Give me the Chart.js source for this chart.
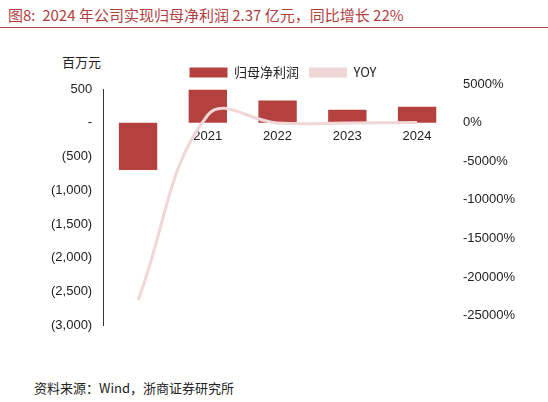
<!DOCTYPE html>
<html><head><meta charset="utf-8">
<script src="https://cdn.jsdelivr.net/npm/chart.js@4/dist/chart.umd.min.js"></script>
<style>
body{margin:0;background:#fff;font-family:"Noto Sans CJK SC";}
#t{position:absolute;left:8px;top:4px;font-size:15px;color:#b0403e;}
#s{position:absolute;left:34px;top:378px;font-size:13px;color:#222;}
#u{position:absolute;left:62px;top:52px;font-size:13px;color:#222;}
#line{position:absolute;left:0;top:27px;width:548px;border-top:1px solid #b0403e;}
#wrap{position:absolute;left:0;top:56px;width:548px;height:280px;}
</style></head><body>
<div id="t">图8:&nbsp;&nbsp;2024 年公司实现归母净利润 2.37 亿元，同比增长 22%</div>
<div id="line"></div>
<div id="u">百万元</div>
<div id="wrap"><canvas id="c"></canvas></div>
<div id="s">资料来源：Wind，浙商证券研究所</div>
<script>
var years = ["2020", "2021", "2022", "2023", "2024"];
var profit = [-700, 490, 330, 194, 237];
var yoy = [-23000, 1000, -30, -40, 22];

function fmtLeft(v){
    if (v === 0) return "-";
    var s = Math.abs(v).toLocaleString("en-US");
    return v < 0 ? "(" + s + ")" : s;
}

var ctx = document.getElementById("c").getContext("2d");
new Chart(ctx, {
    data: {
        labels: years,
        datasets: [{
            type: "bar", label: "归母净利润", data: profit,
            backgroundColor: "#b5413f", yAxisID: "y", barPercentage: 0.55, categoryPercentage: 1, order: 2
        }, {
            type: "line", label: "YOY", data: yoy,
            borderColor: "#f0d6d6", borderWidth: 3, pointRadius: 0, tension: 0.4,
            yAxisID: "y1", order: 1
        }]
    },
    options: {
        responsive: true, maintainAspectRatio: false, animation: false,
        layout: {padding: {left: 48, right: 30}},
        plugins: {
            legend: {
                labels: {font: {family: "Noto Sans CJK SC", size: 13}, color: "#222", boxWidth: 38, boxHeight: 10,
                         sort: function(a, b){ return a.datasetIndex - b.datasetIndex; },
                         generateLabels: function(ch){
                             var l = Chart.defaults.plugins.legend.labels.generateLabels(ch);
                             l.forEach(function(it){
                                 if (it.text === "YOY") { it.fillStyle = "#f0d6d6"; it.strokeStyle = "#f0d6d6"; it.lineWidth = 0; }
                                 else { it.fillStyle = "#b5413f"; it.strokeStyle = "#b5413f"; it.lineWidth = 0; }
                             });
                             return l;
                         }}
            },
            tooltip: {enabled: false}
        },
        scales: {
            x: {position: {y: 0}, z: 1, grid: {display: false, drawTicks: false}, border: {display: false},
                ticks: {color: "#222", font: {family: "Liberation Sans", size: 13}, padding: 6}},
            y: {min: -3000, max: 500, ticks: {stepSize: 500, callback: fmtLeft, color: "#222",
                font: {family: "Liberation Sans", size: 13}},
                grid: {display: false}, border: {color: "#333"}},
            y1: {position: "right", min: -26250, max: 4375, ticks: {stepSize: 5000, color: "#222",
                callback: function(v){ return v.toString() + "%"; },
                font: {family: "Liberation Sans", size: 13}},
                afterBuildTicks: function(a){ a.ticks = [-25000,-20000,-15000,-10000,-5000,0,5000].map(function(v){return {value:v};}); },
                grid: {display: false}, border: {display: false}}
        }
    }
});
</script>
</body></html>
